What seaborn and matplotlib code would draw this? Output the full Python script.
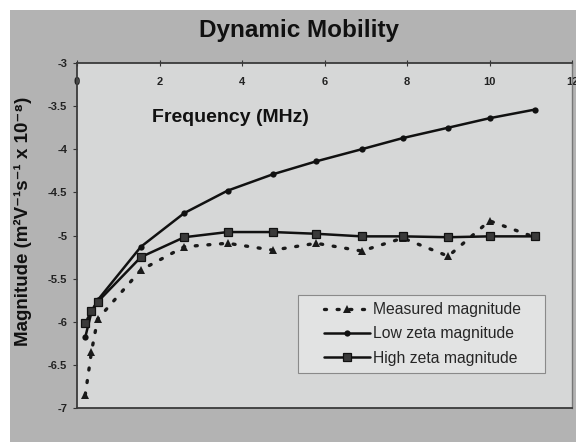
import matplotlib
matplotlib.use("Agg")
import matplotlib.pyplot as plt
import seaborn as sns
import pandas as pd
from matplotlib.patches import Rectangle

# Data
freq = [0.2, 0.35, 0.5, 1.55, 2.6, 3.65, 4.75, 5.8, 6.9, 7.9, 9.0, 10.0, 11.1]
measured = [-6.85, -6.35, -5.97, -5.40, -5.13, -5.09, -5.17, -5.09, -5.18, -5.03, -5.24, -4.83, -5.02]
low_zeta = [-6.18, -5.89, -5.75, -5.13, -4.74, -4.48, -4.29, -4.14, -4.00, -3.87, -3.75, -3.64, -3.54]
high_zeta = [-6.02, -5.87, -5.77, -5.25, -5.02, -4.96, -4.96, -4.98, -5.01, -5.01, -5.02, -5.01, -5.01]
series_names = ["Measured magnitude", "Low zeta magnitude", "High zeta magnitude"]
x_ticks = [0, 2, 4, 6, 8, 10, 12]
y_ticks = [-3, -3.5, -4, -4.5, -5, -5.5, -6, -6.5, -7]

sns.set_style("ticks")
plt.rcParams['font.family'] = ['Liberation Sans', 'DejaVu Sans']

fig = plt.figure(figsize=(5.76, 4.42), dpi=100, facecolor="white")
fig.patches.append(Rectangle((10/576, 0), 1, 1 - 10/442, transform=fig.transFigure,
                             facecolor="#b3b3b3", edgecolor="none", zorder=-5))
ax = fig.add_axes([77/576, 1 - 408/442, 495/576, 345/442])
ax.set_zorder(2)
ax.set_facecolor("#d6d7d7")

df = pd.DataFrame({"freq": freq, "measured": measured, "low": low_zeta, "high": high_zeta})

sns.lineplot(data=df, x="freq", y="measured", ax=ax, sort=False, estimator=None,
             color="#1a1a1a", linewidth=2.4, linestyle=(0, (0.6, 3.2)), dash_capstyle="round",
             marker="^", markersize=6, markeredgewidth=0, label=series_names[0])
sns.lineplot(data=df, x="freq", y="low", ax=ax, sort=False, estimator=None,
             color="#111111", linewidth=1.8, marker="o", markersize=4.5,
             markeredgewidth=0, label=series_names[1])
sns.lineplot(data=df, x="freq", y="high", ax=ax, sort=False, estimator=None,
             color="#111111", linewidth=1.8, marker="s", markersize=5.5,
             markeredgewidth=0.9, markeredgecolor="#111111", markerfacecolor="#3a3a3a",
             label=series_names[2])

ax.set_xlim(0, 12)
ax.set_ylim(-7, -3)
ax.set_xticks(x_ticks)
ax.set_xticklabels([str(t) for t in x_ticks], fontweight="bold")
ax.set_yticks(y_ticks)
ax.set_yticklabels([f"{t:g}" for t in y_ticks], fontweight="bold")
ax.xaxis.tick_top()
ax.tick_params(axis="x", top=True, bottom=False, labeltop=True, labelbottom=False,
               direction="inout", length=5, width=0.8, pad=-20, labelsize=8, colors="#333333",
               labelcolor="#222222")
ax.tick_params(axis="y", direction="out", length=3, width=0.8, labelsize=8, pad=4,
               colors="#333333", labelcolor="#222222")
for s in ax.spines.values():
    s.set_visible(True)
    s.set_color("#3a3a3a")
    s.set_linewidth(1.3)
ax.spines["right"].set_color("#777777")
ax.spines["right"].set_linewidth(1.0)

ax.set_xlabel("")
ax.set_ylabel("Magnitude (m²V⁻¹s⁻¹ x 10⁻⁸)", fontsize=13.5, fontweight="bold",
              color="#111111")
ax.yaxis.set_label_coords(-0.09, 0.54)
ax.text(0.152, 0.843, "Frequency (MHz)", transform=ax.transAxes, fontsize=14,
        fontweight="bold", color="#111111", ha="left", va="center")
fig.text(299/576, 1 - 31/442, "Dynamic Mobility", fontsize=17.5, fontweight="bold",
         color="#111111", ha="center", va="center")

# legend box
ax.add_patch(Rectangle((0.446, 0.101), 0.499, 0.227, transform=ax.transAxes,
                       facecolor="#e2e3e3", edgecolor="#8a8a8a", linewidth=0.8, zorder=4))
leg = ax.legend(loc="center", bbox_to_anchor=(0.446 + 0.499 / 2 + 0.003, 0.101 + 0.227 / 2),
                fontsize=11.3, frameon=False, handlelength=2.9,
                handletextpad=0.25, borderaxespad=0, labelspacing=0.58, borderpad=0.3)
leg.set_zorder(5)

fig.savefig("out.png", dpi=100, facecolor=fig.get_facecolor())
